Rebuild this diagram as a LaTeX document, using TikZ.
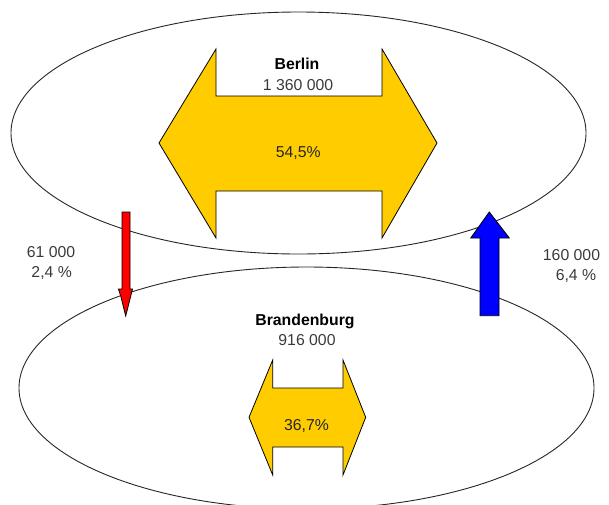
\documentclass[tikz,border=0pt]{standalone}
\usepackage{fontspec}
\setmainfont{Liberation Sans}
\usetikzlibrary{shapes.geometric}
\definecolor{flowgold}{HTML}{FFCC00}
\definecolor{labelgray}{HTML}{3A3A3A}
\begin{document}
\begin{tikzpicture}[x=1pt,y=-1pt,
  region/.style={draw=black!85, line width=0.9pt, ellipse, inner sep=0,
    minimum width=575pt, minimum height=242pt},
  block/.style={draw=black, line width=0.8pt, line join=miter},
  lbl/.style={inner sep=0, anchor=base, font=\fontsize{15.8}{18}\selectfont, text=labelgray},
  ttl/.style={inner sep=0, anchor=base, font=\fontsize{15.8}{18}\selectfont\bfseries, text=black}]
\useasboundingbox (0,0) rectangle (609,504);

% the two regions
\node[region] (berlinArea) at (298.5,133) {};
\node[region] (brbArea) at (306.5,388) {};

% internal movement within Berlin
\draw[block, fill=flowgold] (216,49) -- (216,96) -- (382,96) -- (382,49) -- (437,143)
  -- (382,238) -- (382,191) -- (216,191) -- (216,238) -- (159,143) -- cycle;

% internal movement within Brandenburg
\draw[block, fill=flowgold] (272.7,360) -- (272.7,388) -- (343,388) -- (343,360) -- (365.7,417.3)
  -- (343,475) -- (343,447) -- (272.7,447) -- (272.7,475) -- (249,417.3) -- cycle;

% Berlin -> Brandenburg
\draw[block, fill=red] (122,212) -- (130,212) -- (130,289) -- (132.5,289) -- (130.5,297)
  -- (125.7,316) -- (121,297) -- (118.5,289) -- (122,289) -- cycle;

% Brandenburg -> Berlin
\draw[block, fill=blue] (480,315.7) -- (480,238) -- (470.7,238) -- (489.3,212) -- (509.3,238)
  -- (499,238) -- (499,315.7) -- cycle;

% labels
\node[ttl] (berlinName) at (297,69) {Berlin};
\node[lbl] (berlinPop) at (298,90.7) {1 360 000};
\node[lbl, text=black!85] (berlinShare) at (298.3,157.7) {54,5\%};

\node[ttl] (brbName) at (305,325) {Brandenburg};
\node[lbl] (brbPop) at (307,345) {916 000};
\node[lbl, text=black!85] (brbShare) at (306.5,430) {36,7\%};

\node[lbl] (outNum) at (51,257.7) {61 000};
\node[lbl] (outPct) at (51.7,277.7) {2,4 \%};
\node[lbl] (inNum) at (571.5,260) {160 000};
\node[lbl] (inPct) at (576,280.7) {6,4 \%};
\end{tikzpicture}
\end{document}
